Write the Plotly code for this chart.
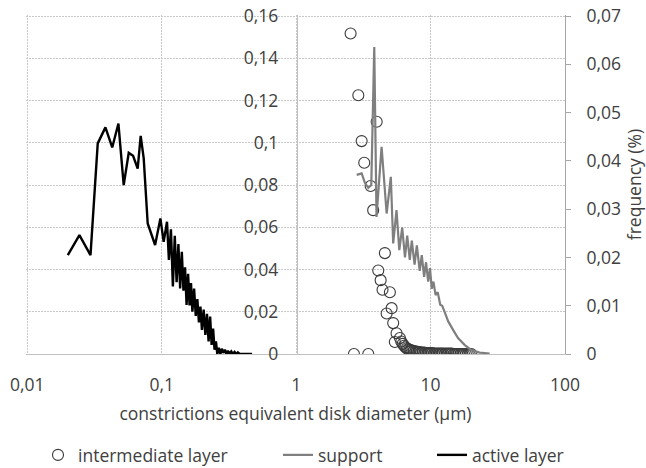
import plotly.graph_objects as go

# ---------------- data ----------------
active_x = [0.020, 0.0244, 0.0295, 0.0334, 0.0381, 0.0428, 0.0476, 0.0521, 0.0568, 0.0612,
            0.0662, 0.0697, 0.0734, 0.0786, 0.0892, 0.0977, 0.1033, 0.1094,
            0.113, 0.117, 0.121, 0.125, 0.129, 0.133, 0.137, 0.141, 0.145, 0.149,
            0.153, 0.157, 0.161, 0.165, 0.169, 0.174, 0.179, 0.184, 0.189, 0.194,
            0.199, 0.205, 0.211, 0.217, 0.223, 0.229, 0.235, 0.241, 0.247, 0.253,
            0.259, 0.266, 0.273, 0.280, 0.287, 0.295, 0.303, 0.311, 0.320, 0.329,
            0.338, 0.348, 0.358, 0.368, 0.380, 0.400, 0.430, 0.470]
active_y = [0.0468, 0.0563, 0.0468, 0.0997, 0.1073, 0.0978, 0.1091, 0.0800, 0.0952, 0.0938,
            0.0878, 0.1033, 0.0926, 0.0618, 0.0516, 0.0642, 0.0531, 0.0626,
            0.0445, 0.0590, 0.0320, 0.0560, 0.0340, 0.0520, 0.0310, 0.0484, 0.0300, 0.0410,
            0.0232, 0.0380, 0.0230, 0.0336, 0.0200, 0.0310, 0.0180, 0.0260, 0.0150, 0.0224,
            0.0114, 0.0210, 0.0090, 0.0190, 0.0060, 0.0177, 0.0043, 0.0120, 0.0020, 0.0060,
            0.0000, 0.0030, 0.0000, 0.0025, 0.0005, 0.0020, 0.0000, 0.0015, 0.0000, 0.0012,
            0.0000, 0.0010, 0.0000, 0.0008, 0.0000, 0.0000, 0.0000, 0.0000]

support_x = [2.82, 3.07, 3.25, 3.44, 3.62, 3.81, 3.96, 4.32, 4.71, 5.06, 5.27, 5.58,
             5.85, 6.15, 6.45, 6.70, 7.00, 7.25, 7.60, 7.90, 8.30, 8.60, 8.95, 9.25,
             9.60, 9.90, 10.2, 10.5, 10.9, 11.3, 11.8, 12.2, 12.8, 13.5, 14.7, 16.0,
             17.9, 20.1, 23.2, 27.5]
support_y = [0.0371, 0.0374, 0.0354, 0.0344, 0.0350, 0.0636, 0.0284, 0.0429, 0.0291, 0.0367, 0.0229, 0.0298,
             0.0215, 0.0262, 0.0200, 0.0245, 0.0195, 0.0235, 0.0185, 0.0225, 0.0172, 0.0205, 0.0160, 0.0190,
             0.0150, 0.0178, 0.0135, 0.0150, 0.0122, 0.0128, 0.0102, 0.0100, 0.0085, 0.0068, 0.0050, 0.0033,
             0.0019, 0.0008, 0.0003, 0.0001]

inter_x = [2.54, 2.69, 2.90, 3.07, 3.21, 3.44, 3.58, 3.74, 3.97, 4.08, 4.25, 4.39, 4.57,
           4.71, 4.98, 5.13, 5.27, 5.42, 5.58, 5.91, 6.05, 6.20, 6.35, 6.50, 6.65, 6.80,
           6.95, 7.10, 7.30, 7.50, 7.70, 7.90, 8.10, 8.30, 8.50, 8.75, 9.00, 9.25, 9.50,
           9.75, 10.0, 10.3, 10.6, 10.9, 11.2, 11.5, 11.8, 12.1, 12.4, 12.8, 13.2, 13.6,
           14.0, 14.4, 14.8, 15.2, 15.7, 16.2, 16.7, 17.2, 17.7, 18.3, 18.9, 19.5, 20.1]
inter_y = [0.0664, 0.0, 0.0536, 0.0441, 0.0396, 0.0, 0.0348, 0.0298, 0.0481, 0.0173, 0.0153, 0.0133, 0.0209,
           0.0084, 0.0128, 0.0095, 0.0064, 0.0025, 0.0043, 0.0033, 0.0026, 0.0021, 0.0017, 0.0014, 0.0012, 0.0010,
           0.0009, 0.0008, 0.0007, 0.0006, 0.0005, 0.0005, 0.0004, 0.0004, 0.0003, 0.0003, 0.0003, 0.0002, 0.0002,
           0.0002, 0.0002, 0.0002, 0.0001, 0.0001, 0.0001, 0.0001, 0.0001, 0.0001, 0.0001, 0.0001, 0.0001, 0.0001,
           0.0001, 0.0001, 0.0, 0.0, 0.0, 0.0, 0.0, 0.0, 0.0, 0.0, 0.0, 0.0, 0.0]

x_tickvals = [0.01, 0.1, 1, 10, 100]
x_ticktext = ["0,01", "0,1", "1", "10", "100"]
y1_tickvals = [0, 0.02, 0.04, 0.06, 0.08, 0.1, 0.12, 0.14, 0.16]
y1_ticktext = ["0", "0,02", "0,04", "0,06", "0,08", "0,1", "0,12", "0,14", "0,16"]
y2_tickvals = [0, 0.01, 0.02, 0.03, 0.04, 0.05, 0.06, 0.07]
y2_ticktext = ["0", "0,01", "0,02", "0,03", "0,04", "0,05", "0,06", "0,07"]

FONT = "Open Sans"
FS = 17.5
TXT = "#404040"
GRID = "#c8c8c8"
GDASH = "2px,1px"

W, H = 646, 468

fig = go.Figure()
fig.add_trace(go.Scatter(
    x=inter_x, y=inter_y, name="intermediate layer", mode="markers", yaxis="y2",
    marker=dict(symbol="circle-open", size=11, color="#3a3a3a", line=dict(width=1.1)),
    legend="legend",
))
fig.add_trace(go.Scatter(
    x=support_x, y=support_y, name="support", mode="lines", yaxis="y2",
    line=dict(color="#7f7f7f", width=2.2),
    legend="legend2",
))
fig.add_trace(go.Scatter(
    x=active_x, y=active_y, name="active layer", mode="lines", yaxis="y",
    line=dict(color="#000000", width=2.4),
    legend="legend3",
))

leg_common = dict(orientation="h", xref="container", yref="container",
                  y=1 - 455 / H, yanchor="middle", xanchor="left",
                  font=dict(family=FONT, size=FS, color=TXT), bgcolor="rgba(0,0,0,0)")

fig.update_layout(
    width=W, height=H,
    margin=dict(l=26, r=81, t=15, b=114, autoexpand=False),
    paper_bgcolor="white", plot_bgcolor="white",
    font=dict(family=FONT, size=FS, color=TXT),
    showlegend=True,
    legend=dict(x=38 / W, **leg_common),
    legend2=dict(x=278 / W, **leg_common),
    legend3=dict(x=432 / W, **leg_common),
    xaxis=dict(type="log", range=[-2.01, 2], domain=[0, 1],
               tickvals=x_tickvals, ticktext=x_ticktext,
               showgrid=True, gridcolor=GRID, griddash=GDASH, gridwidth=1,
               showline=True, linecolor="#c0c0c0", linewidth=1,
               zeroline=False, ticks="", ticklabelstandoff=15,
               ticklabeloverflow="allow",
               tickfont=dict(family=FONT, size=FS, color=TXT),
               title=dict(text="constrictions equivalent disk diameter (µm)",
                          font=dict(family=FONT, size=FS, color=TXT), standoff=12)),
    yaxis=dict(range=[0, 0.1605], anchor="free", position=0.5025, side="left",
               tickvals=y1_tickvals, ticktext=y1_ticktext,
               showgrid=True, gridcolor=GRID, griddash=GDASH, gridwidth=1,
               zeroline=False, showline=True, linecolor="#c0c0c0", linewidth=1,
               ticks="", ticklabelstandoff=15, ticklabeloverflow="allow",
               tickfont=dict(family=FONT, size=FS, color=TXT)),
    yaxis2=dict(range=[0, 0.07021875], overlaying="y", side="right", anchor="x",
                tickvals=y2_tickvals, ticktext=y2_ticktext,
                showgrid=False, zeroline=False,
                showline=True, linecolor="#a6a6a6", linewidth=1,
                ticks="outside", ticklen=5, tickcolor="#a6a6a6",
                ticklabelstandoff=12, ticklabeloverflow="allow",
                tickfont=dict(family=FONT, size=FS, color=TXT),
                title=dict(text="frequency (%)", font=dict(family=FONT, size=FS, color=TXT), standoff=8)),
)

# remove the default page margin so the 646x468 figure fills the window exactly
fig.write_html("out.html", config={"displayModeBar": False},
               post_script="document.body.style.margin='0';")
